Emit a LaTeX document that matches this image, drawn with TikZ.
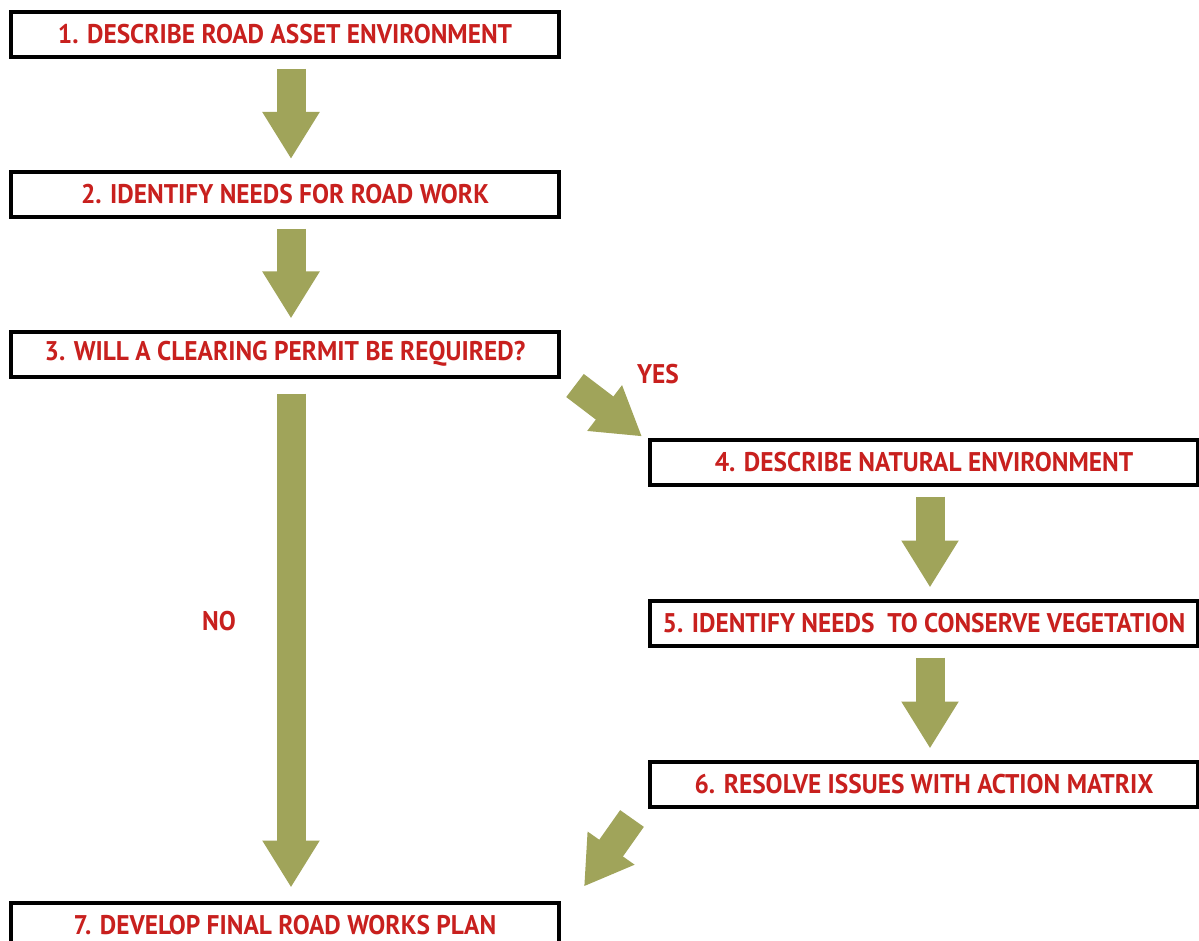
\documentclass[tikz,border=0pt]{standalone}
\usepackage{fontspec}
\setmainfont[FakeStretch=0.94]{PT Sans}
\usetikzlibrary{arrows.meta}
\definecolor{stepred}{RGB}{200,32,30}
\definecolor{olive}{RGB}{160,164,90}
\tikzset{
  stepbox/.style={draw=black, line width=4pt, fill=white, minimum width=548pt, minimum height=45pt, inner sep=0pt, text=stepred, font=\fontsize{27}{30}\selectfont\bfseries},
  bigarrow/.style={draw=olive, line width=29pt, line cap=butt, -{Triangle[width=54pt,length=47pt]}},
  answer/.style={text=stepred, font=\fontsize{27}{30}\selectfont\bfseries}
}
\begin{document}
\begin{tikzpicture}[x=1pt, y=1pt]
	\clip (0,0) rectangle (1199,-941);
	\fill[white] (0,0) rectangle (1199,-941);
	\node[stepbox] (b1) at (285,-34.5) {1. DESCRIBE ROAD ASSET ENVIRONMENT};
	\node[stepbox] (b2) at (285,-194.5) {2. IDENTIFY NEEDS FOR ROAD WORK};
	\node[stepbox] (b3) at (285,-354) {3. WILL A CLEARING PERMIT BE REQUIRED?};
	\node[stepbox] (b4) at (924,-462) {4. DESCRIBE NATURAL ENVIRONMENT};
	\node[stepbox] (b5) at (924,-623) {5. IDENTIFY NEEDS\ \ TO CONSERVE VEGETATION};
	\node[stepbox] (b6) at (924,-784) {6. RESOLVE ISSUES WITH ACTION MATRIX};
	\node[stepbox] (b7) at (285,-925) {7. DEVELOP FINAL ROAD WORKS PLAN};
	\draw[bigarrow] ([xshift=6pt,yshift=-10pt]b1.south) -- ([xshift=6pt,yshift=11pt]b2.north);
	\draw[bigarrow] ([xshift=6pt,yshift=-10pt]b2.south) -- ([xshift=6pt,yshift=11pt]b3.north);
	\draw[bigarrow] ([xshift=6pt,yshift=-15pt]b3.south) -- ([xshift=6pt,yshift=13pt]b7.north);
	\draw[bigarrow] ([xshift=6pt,yshift=-10pt]b4.south) -- ([xshift=6pt,yshift=11pt]b5.north);
	\draw[bigarrow] ([xshift=6pt,yshift=-10pt]b5.south) -- ([xshift=6pt,yshift=11pt]b6.north);
	\draw[bigarrow] ([shift={(14,-7)}]b3.south east) -- ([shift={(-6,1)}]b4.north west);
	\draw[bigarrow] ([shift={(-16,-10)}]b6.south west) -- ([shift={(23,14)}]b7.north east);
	\node[answer] (yes) at (658,-374) {YES};
	\node[answer] (no) at (219,-621) {NO};
\end{tikzpicture}
\end{document}
